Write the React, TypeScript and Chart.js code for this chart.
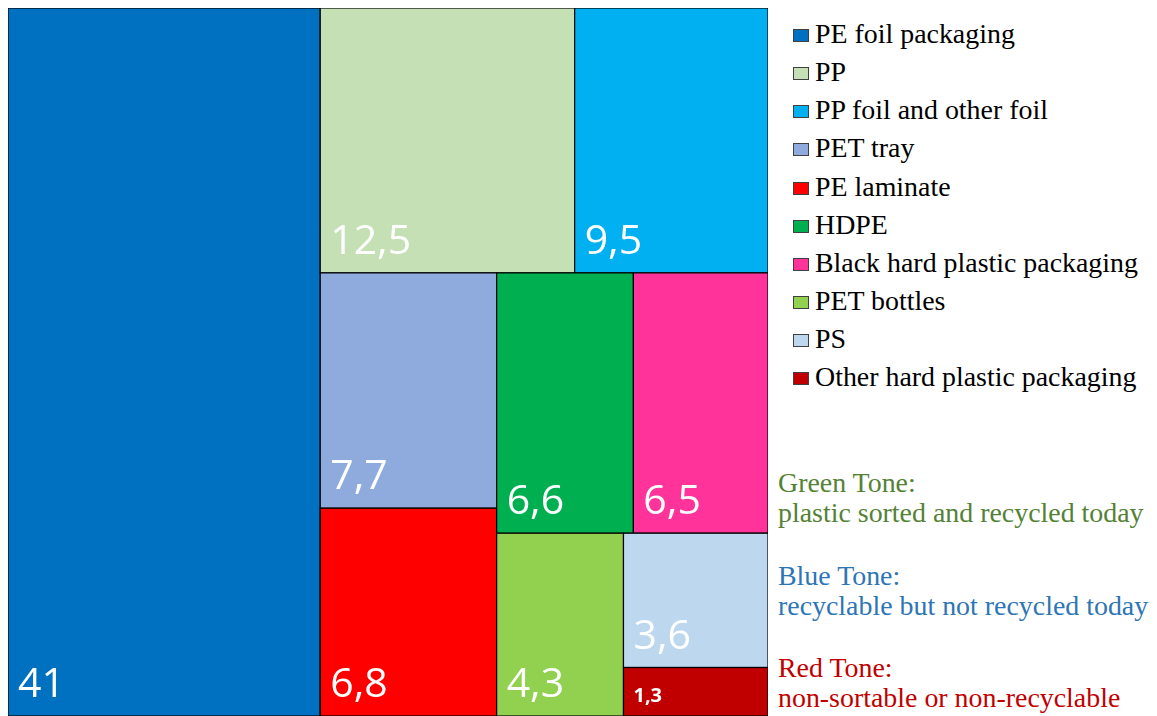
import React, { useEffect, useRef } from "react";
import { Chart, registerables } from "chart.js";

Chart.register(...registerables);

const categories = [
  "PE foil packaging",
  "PP",
  "PP foil and other foil",
  "PET tray",
  "PE laminate",
  "HDPE",
  "Black hard plastic packaging",
  "PET bottles",
  "PS",
  "Other hard plastic packaging",
];
const values = [41, 12.5, 9.5, 7.7, 6.8, 6.6, 6.5, 4.3, 3.6, 1.3];
const colors = [
  "#0070C0",
  "#C5E0B4",
  "#00B0F0",
  "#8FAADC",
  "#FF0000",
  "#00B050",
  "#FF3399",
  "#92D050",
  "#BDD7EE",
  "#C00000",
];
const noteTitles = ["Green Tone:", "Blue Tone:", "Red Tone:"];
const noteTexts = [
  "plastic sorted and recycled today",
  "recyclable but not recycled today",
  "non-sortable or non-recyclable",
];
const noteColors = ["#548235", "#2E75B6", "#C00000"];

type Rect = { x: number; y: number; w: number; h: number; i: number };

function worst(row: number[], side: number): number {
  const s = row.reduce((a, b) => a + b, 0);
  let m = 0;
  for (const a of row) {
    const r = Math.max((side * side * a) / (s * s), (s * s) / (side * side * a));
    if (r > m) m = r;
  }
  return m;
}

function squarify(vals: number[], W: number, H: number): Rect[] {
  const total = vals.reduce((a, b) => a + b, 0);
  const areas = vals.map((v) => (v * W * H) / total);
  const rects: Rect[] = [];
  let x = 0, y = 0, w = W, h = H, i = 0;
  while (i < areas.length) {
    const side = Math.min(w, h);
    const row = [areas[i]];
    const idx = [i];
    i++;
    while (i < areas.length) {
      const cand = row.concat(areas[i]);
      if (worst(cand, side) <= worst(row, side)) {
        row.push(areas[i]);
        idx.push(i);
        i++;
      } else break;
    }
    const s = row.reduce((a, b) => a + b, 0);
    if (w >= h) {
      const cw = s / h;
      let yy = y;
      row.forEach((a, k) => {
        const rh = a / cw;
        rects.push({ x, y: yy, w: cw, h: rh, i: idx[k] });
        yy += rh;
      });
      x += cw;
      w -= cw;
    } else {
      const rh = s / w;
      let xx = x;
      row.forEach((a, k) => {
        const rw = a / rh;
        rects.push({ x: xx, y, w: rw, h: rh, i: idx[k] });
        xx += rw;
      });
      y += rh;
      h -= rh;
    }
  }
  return rects;
}

const treemapPlugin = {
  id: "treemapDraw",
  afterDatasetsDraw(chart: any) {
    const { ctx, chartArea, scales } = chart;
    const W = chartArea.right - chartArea.left;
    const H = chartArea.bottom - chartArea.top;
    const rects = squarify(values, W, H);
    const sx = scales.x;
    const sy = scales.y;
    ctx.save();
    for (const r of rects) {
      const x0 = sx.getPixelForValue(r.x / W);
      const x1 = sx.getPixelForValue((r.x + r.w) / W);
      const y0 = sy.getPixelForValue(r.y / H);
      const y1 = sy.getPixelForValue((r.y + r.h) / H);
      ctx.fillStyle = colors[r.i];
      ctx.fillRect(x0, y0, x1 - x0, y1 - y0);
      ctx.strokeStyle = "#000000";
      ctx.lineWidth = 1.2;
      ctx.strokeRect(x0, y0, x1 - x0, y1 - y0);
    }
    for (const r of rects) {
      const x0 = sx.getPixelForValue(r.x / W);
      const y1 = sy.getPixelForValue((r.y + r.h) / H);
      const y0 = sy.getPixelForValue(r.y / H);
      const small = y1 - y0 < 60;
      ctx.fillStyle = "#FFFFFF";
      ctx.textBaseline = "alphabetic";
      ctx.textAlign = "left";
      ctx.font = small ? "bold 20px 'Open Sans'" : "41px 'Open Sans'";
      const label = String(values[r.i]).replace(".", ",");
      ctx.fillText(label, x0 + 10, y1 - (small ? 14 : 19));
    }
    ctx.restore();
  },
};

export default function App() {
  const canvasRef = useRef<HTMLCanvasElement | null>(null);

  useEffect(() => {
    if (!canvasRef.current) return;
    const chart = new Chart(canvasRef.current, {
      type: "scatter",
      data: {
        labels: categories,
        datasets: [{ label: "Share", data: [], pointRadius: 0 }],
      },
      options: {
        animation: false,
        responsive: false,
        layout: { padding: { left: 1, top: 1, right: 0, bottom: 0 } },
        plugins: { legend: { display: false }, tooltip: { enabled: false } },
        scales: {
          x: { type: "linear", min: 0, max: 1, display: false },
          y: { type: "linear", min: 0, max: 1, reverse: true, display: false },
        },
      },
      plugins: [treemapPlugin],
    });
    return () => chart.destroy();
  }, []);

  const fs = 27.9;
  const serif = "'Liberation Serif', 'Times New Roman', serif";
  const rowH = 38.16;

  return (
    <div style={{ position: "relative", width: 1141, height: 708 }}>
      <canvas
        ref={canvasRef}
        width={761}
        height={709}
        style={{ position: "absolute", left: -1, top: -1, width: 761, height: 709 }}
      />
      {categories.map((c, i) => (
        <div
          key={c}
          style={{
            position: "absolute",
            left: 785,
            top: 6.9 + i * rowH,
            height: rowH,
            lineHeight: rowH + "px",
            fontFamily: serif,
            fontSize: fs,
            color: "#000",
            whiteSpace: "nowrap",
          }}
        >
          <span
            style={{
              position: "absolute",
              left: 0,
              top: 14,
              width: 14,
              height: 11,
              background: colors[i],
              border: "1px solid #404040",
            }}
          />
          <span style={{ position: "absolute", left: 22, top: 0 }}>{c}</span>
        </div>
      ))}
      {noteTitles.map((t, g) => {
        const base = [491.7, 585, 676.7][g];
        const lines = [t, noteTexts[g]];
        return lines.map((ln, k) => (
          <div
            key={t + k}
            style={{
              position: "absolute",
              left: 770,
              top: base + k * 30 - 8 - 24,
              height: 29.5,
              lineHeight: "29.5px",
              fontFamily: serif,
              fontSize: fs,
              color: noteColors[g],
              whiteSpace: "nowrap",
            }}
          >
            {ln}
          </div>
        ));
      })}
    </div>
  );
}
